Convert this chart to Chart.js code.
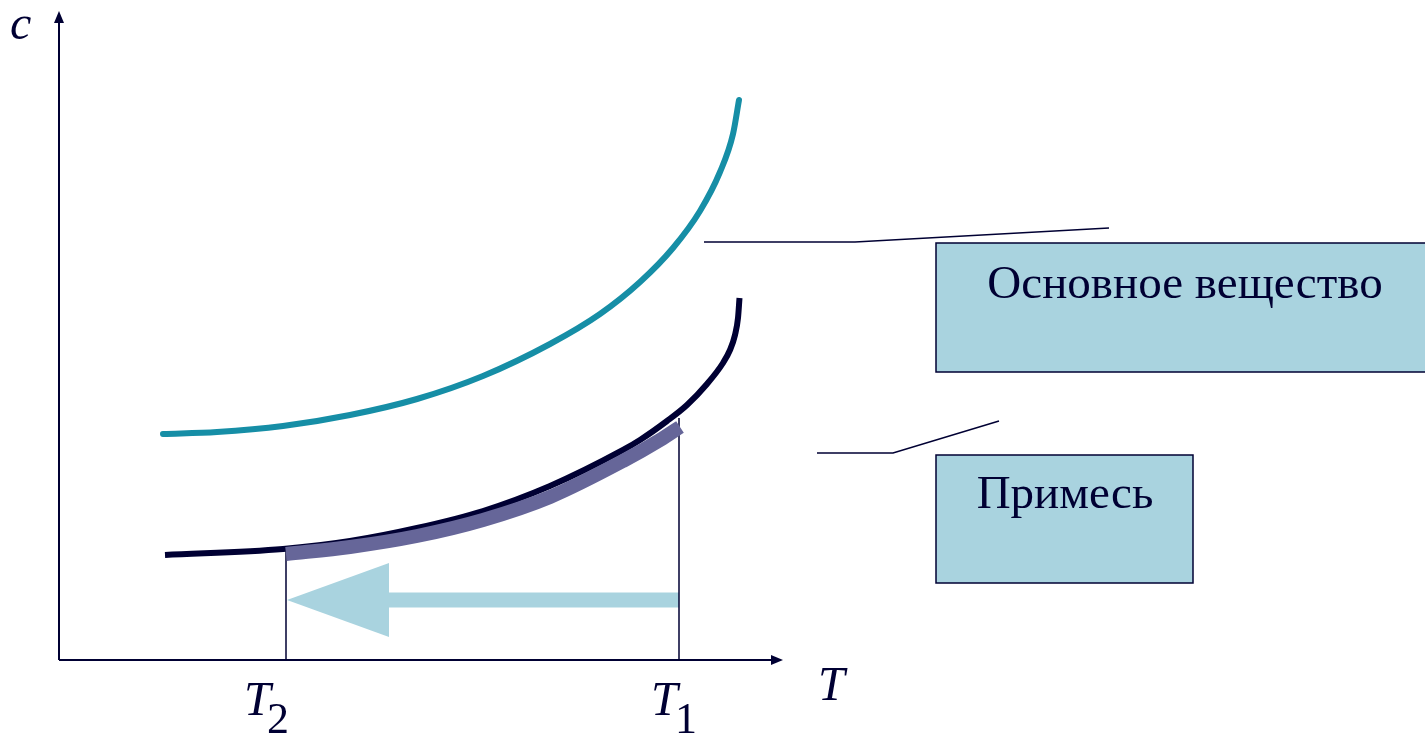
<!DOCTYPE html>
<html>
<head>
<meta charset="utf-8">
<script src="https://cdn.jsdelivr.net/npm/chart.js@4.4.0/dist/chart.umd.min.js"></script>
<style>
  html, body { margin: 0; padding: 0; background: #fff; }
  #wrap { width: 1425px; height: 735px; }
</style>
</head>
<body>
<div id="wrap"><canvas id="diagram"></canvas></div>
<script>
// кривые растворимости (T, c) в условных единицах
const mainT = [10.4, 15.8, 22.4, 29.1, 35.8, 42.4, 49.1, 54.1, 58.1, 61.4, 64.1, 66.1, 67.4, 68.0];
const mainC = [22.6, 22.8, 23.4, 24.5, 26.1, 28.4, 31.6, 34.6, 37.8, 41.2, 44.9, 48.8, 52.6, 56.0];

const impT = [10.6, 22.4, 29.1, 35.8, 42.4, 49.1, 56.4, 58.1, 60.8, 62.8, 64.8, 66.4, 67.1, 67.6, 67.9, 68.05];
const impC = [10.5, 11.1, 11.9, 13.2, 14.9, 17.4, 21.0, 22.0, 23.9, 25.5, 27.6, 29.7, 31.0, 32.5, 34.2, 36.2];

// участок охлаждения от T1 до T2
const pathT = [22.7, 29.1, 35.8, 42.4, 49.1, 56.4, 60.1, 62.1];
const pathC = [10.6, 11.3, 12.4, 14.0, 16.3, 19.9, 22.0, 23.3];

const T2 = 22.7;
const T1 = 62.0;
const cAtT2 = 11.3;
const cAtT1 = 24.2;

const boxLabels = ['Основное вещество', 'Примесь'];
const axisLabels = ['c', 'T'];
const tempLabels = [['T', '2'], ['T', '1']];

const navy = '#000033';
const teal = '#168ea6';
const purple = '#666699';
const lightBlue = '#a9d3df';
const serif = '"Liberation Serif", "Times New Roman", serif';

const pts = (xs, ys) => xs.map((x, i) => ({ x: x, y: ys[i] }));

const extras = {
    id: 'extras',
    beforeDatasetsDraw(chart) {
        const ctx = chart.ctx;
        const x = chart.scales.x, y = chart.scales.y;
        const ox = x.getPixelForValue(0), oy = y.getPixelForValue(0);
        const xEnd = x.getPixelForValue(72.4), yEnd = y.getPixelForValue(64.9);

        ctx.save();
        ctx.strokeStyle = navy;
        ctx.fillStyle = navy;
        ctx.lineWidth = 2;
        // оси
        ctx.beginPath();
        ctx.moveTo(ox, oy); ctx.lineTo(xEnd - 8, oy);
        ctx.moveTo(ox, oy); ctx.lineTo(ox, yEnd + 8);
        ctx.stroke();
        ctx.beginPath();
        ctx.moveTo(xEnd, oy); ctx.lineTo(xEnd - 12, oy - 5); ctx.lineTo(xEnd - 12, oy + 5); ctx.closePath();
        ctx.fill();
        ctx.beginPath();
        ctx.moveTo(ox, yEnd); ctx.lineTo(ox - 5, yEnd + 12); ctx.lineTo(ox + 5, yEnd + 12); ctx.closePath();
        ctx.fill();

        // блоки с подписями
        const boxes = [
            { x0: 87.7, x1: 140, y0: 41.7, y1: 28.8, tx: 112.6, ty: 36.2 },
            { x0: 87.7, x1: 113.4, y0: 20.5, y1: 7.7, tx: 100.6, ty: 15.2 }
        ];
        boxes.forEach((b, i) => {
            const l = x.getPixelForValue(b.x0), r = x.getPixelForValue(b.x1);
            const t = y.getPixelForValue(b.y0), bt = y.getPixelForValue(b.y1);
            ctx.fillStyle = lightBlue;
            ctx.fillRect(l, t, r - l, bt - t);
            ctx.lineWidth = 1.5;
            ctx.strokeStyle = navy;
            ctx.strokeRect(l, t, r - l, bt - t);
            ctx.fillStyle = navy;
            ctx.font = '47px ' + serif;
            ctx.textAlign = 'center';
            ctx.textBaseline = 'alphabetic';
            ctx.fillText(boxLabels[i], x.getPixelForValue(b.tx), y.getPixelForValue(b.ty));
        });

        // подписи осей
        ctx.fillStyle = navy;
        ctx.textAlign = 'left';
        ctx.font = 'italic 48px ' + serif;
        ctx.fillText(axisLabels[0], 10, 39);
        ctx.fillText(axisLabels[1], 818, 700);
        const mainX = [244, 651];
        const subX = [267, 675];
        tempLabels.forEach((lab, i) => {
            ctx.font = 'italic 48px ' + serif;
            ctx.fillText(lab[0], mainX[i], 715);
            ctx.font = '44px ' + serif;
            ctx.fillText(lab[1], subX[i], 733);
        });
        ctx.restore();
    },
    afterDatasetsDraw(chart) {
        // наконечник стрелки охлаждения
        const ctx = chart.ctx;
        const x = chart.scales.x, y = chart.scales.y;
        const tip = x.getPixelForValue(T2 + 0.1), base = x.getPixelForValue(33.0);
        const cy = y.getPixelForValue(6.0);
        ctx.save();
        ctx.fillStyle = lightBlue;
        ctx.beginPath();
        ctx.moveTo(tip, cy);
        ctx.lineTo(base, cy - 37);
        ctx.lineTo(base, cy + 37);
        ctx.closePath();
        ctx.fill();
        ctx.restore();
    }
};

// меньший order рисуется поверх
new Chart(document.getElementById('diagram'), {
    type: 'line',
    data: {
        datasets: [
            {
                label: 'Основное вещество',
                data: pts(mainT, mainC),
                borderColor: teal,
                borderWidth: 6,
                borderCapStyle: 'round',
                cubicInterpolationMode: 'monotone',
                order: 5
            },
            {
                label: 'Примесь',
                data: pts(impT, impC),
                borderColor: navy,
                borderWidth: 6,
                cubicInterpolationMode: 'monotone',
                order: 4
            },
            {
                label: 'T1 → T2',
                data: pts(pathT, pathC),
                borderColor: purple,
                borderWidth: 14,
                cubicInterpolationMode: 'monotone',
                order: 1
            },
            {
                label: 'T2',
                data: [{ x: T2, y: cAtT2 }, { x: T2, y: 0 }],
                borderColor: navy,
                borderWidth: 1.5,
                order: 2
            },
            {
                label: 'T1',
                data: [{ x: T1, y: cAtT1 }, { x: T1, y: 0 }],
                borderColor: navy,
                borderWidth: 1.5,
                order: 2
            },
            {
                label: 'выноска 1',
                data: [{ x: 64.5, y: 41.8 }, { x: 79.6, y: 41.8 }, { x: 105.0, y: 43.2 }],
                borderColor: navy,
                borderWidth: 1.5,
                order: 2
            },
            {
                label: 'выноска 2',
                data: [{ x: 75.8, y: 20.7 }, { x: 83.4, y: 20.7 }, { x: 94.0, y: 23.9 }],
                borderColor: navy,
                borderWidth: 1.5,
                order: 2
            },
            {
                label: 'стрелка',
                data: [{ x: T1, y: 6.0 }, { x: 33.0, y: 6.0 }],
                borderColor: lightBlue,
                borderWidth: 15,
                order: 6
            }
        ]
    },
    options: {
        responsive: true,
        maintainAspectRatio: false,
        animation: false,
        layout: { padding: 0 },
        elements: { point: { radius: 0 } },
        plugins: {
            legend: { display: false },
            tooltip: { enabled: false }
        },
        scales: {
            x: { type: 'linear', min: -5.9, max: 136.6, display: false },
            y: { type: 'linear', min: -7.5, max: 66.0, display: false }
        }
    },
    plugins: [extras]
});
</script>
</body>
</html>
